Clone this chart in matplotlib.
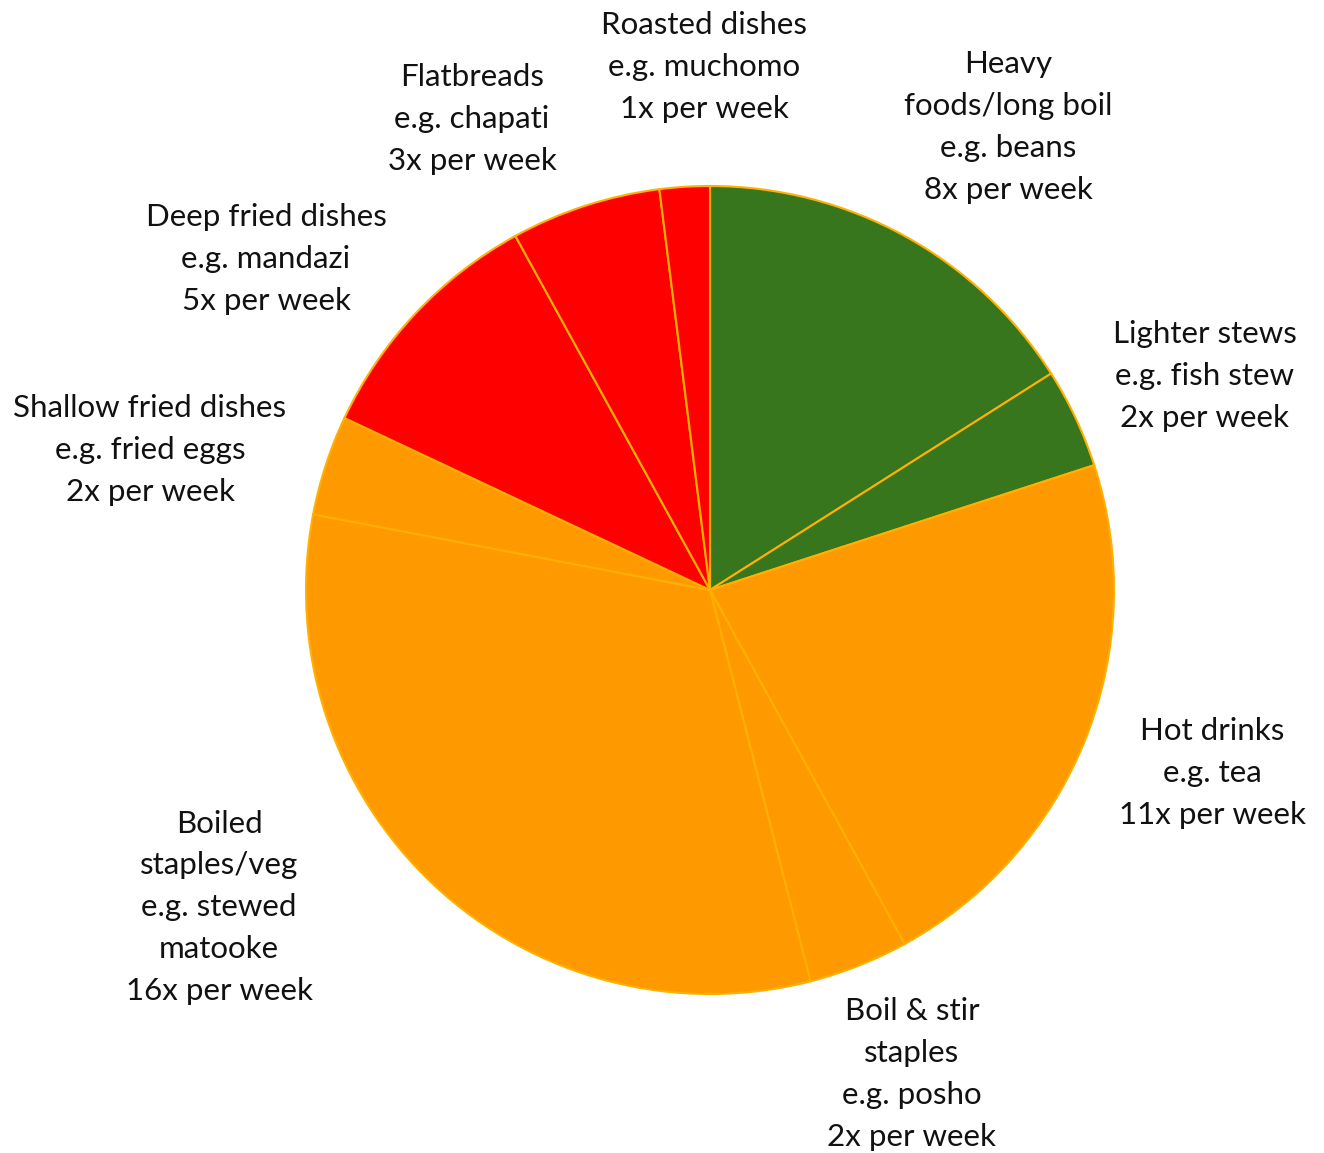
import matplotlib
matplotlib.use("Agg")
import matplotlib.pyplot as plt

labels = [
    "Heavy\nfoods/long boil\ne.g. beans\n8x per week",
    "Lighter stews\ne.g. fish stew\n2x per week",
    "Hot drinks\ne.g. tea\n11x per week",
    "Boil & stir\nstaples\ne.g. posho\n2x per week",
    "Boiled\nstaples/veg\ne.g. stewed\nmatooke\n16x per week",
    "Shallow fried dishes\ne.g. fried eggs\n2x per week",
    "Deep fried dishes\ne.g. mandazi\n5x per week",
    "Flatbreads\ne.g. chapati\n3x per week",
    "Roasted dishes\ne.g. muchomo\n1x per week",
]
values = [8, 2, 11, 2, 16, 2, 5, 3, 1]
colors = ["#38761d", "#38761d", "#ff9900", "#ff9900", "#ff9900",
          "#ff9900", "#ff0000", "#ff0000", "#ff0000"]
label_pos = [(0.738, 1.146), (1.225, 0.530), (1.243, -0.453), (0.500, -1.198),
             (-1.215, -0.785), (-1.386, 0.347), (-1.099, 0.819),
             (-0.589, 1.166), (-0.015, 1.295)]

W, H = 1324, 1153
cx, cy, R = 710, 590, 404
fig = plt.figure(figsize=(W / 100, H / 100), dpi=100)
ax = fig.add_axes([0, 0, 1, 1])
ax.pie(values, colors=colors, startangle=90, counterclock=False,
       wedgeprops=dict(edgecolor="#ffb000", linewidth=1.5))
ax.set_xlim(-cx / R, (W - cx) / R)
ax.set_ylim(-(H - cy) / R, cy / R)
ax.axis("off")
for lab, (x, y) in zip(labels, label_pos):
    ax.text(x, y, lab, ha="center", va="center", fontsize=22.5,
            family="Lato", linespacing=1.6, color="#111111")
fig.savefig("out.png", dpi=100)
